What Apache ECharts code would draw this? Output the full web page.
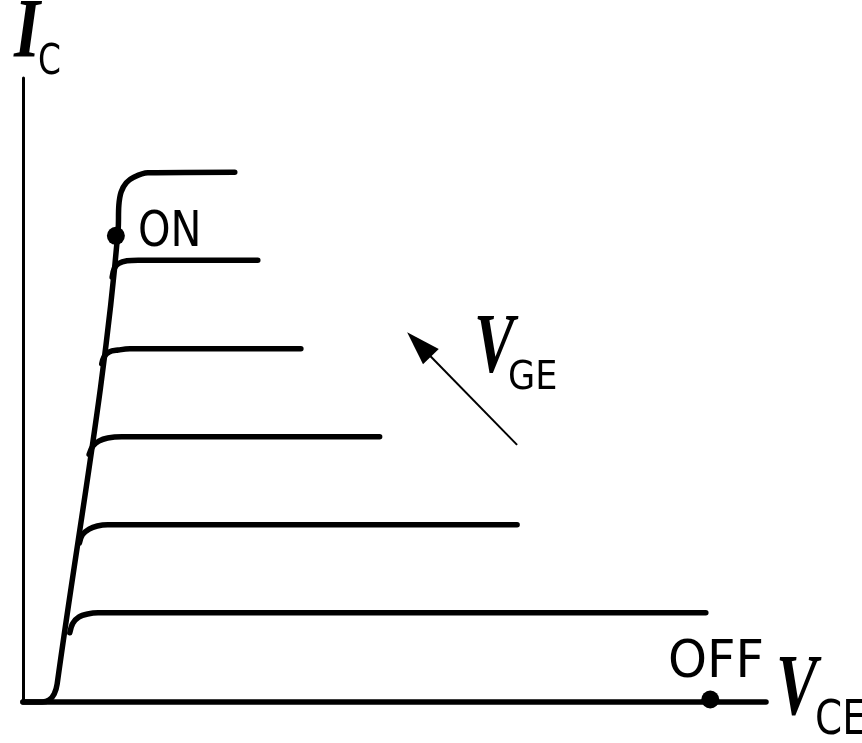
<!DOCTYPE html>
<html>
<head>
<meta charset="utf-8">
<title>IGBT output characteristics</title>
<script src="https://cdn.jsdelivr.net/npm/echarts@6/dist/echarts.min.js"></script>
<style>
  html, body { margin: 0; padding: 0; background: #fff; }
  #chart { width: 862px; height: 743px; }
</style>
</head>
<body>
<div id="chart"></div>
<script>
// Ic - Vce curves, one per Vge step (arbitrary units, 0..10 on both axes)
// the first one also carries the on-state rise from the origin
const curveTop = [[0, 0], [0.26, 0], [0.35, 0.03], [0.42, 0.13], [0.46, 0.29], [1.28, 7.56],
                  [1.29, 7.96], [1.32, 8.17], [1.39, 8.32], [1.49, 8.41], [1.68, 8.48], [2.85, 8.49]];
const curve2 = [[1.20, 6.81], [1.23, 6.95], [1.29, 7.03], [1.40, 7.07], [1.55, 7.08], [3.16, 7.08]];
const curve3 = [[1.06, 5.42], [1.09, 5.53], [1.16, 5.61], [1.28, 5.64], [1.44, 5.66], [3.74, 5.66]];
const curve4 = [[0.89, 3.97], [0.94, 4.10], [1.02, 4.18], [1.14, 4.23], [1.33, 4.25], [4.80, 4.25]];
const curve5 = [[0.76, 2.55], [0.80, 2.68], [0.89, 2.77], [1.00, 2.82], [1.14, 2.84], [6.65, 2.84]];
const curve6 = [[0.63, 1.11], [0.67, 1.26], [0.75, 1.36], [0.87, 1.41], [1.01, 1.43], [9.19, 1.43]];
const curveOff = [[0, 0], [10, 0]];

// operating points
const onPoint = [1.25, 7.47];
const offPoint = [9.25, 0.04];

// Vge direction arrow (tail -> head)
const arrowFrom = [6.65, 4.12];
const arrowTo = [5.33, 5.73];

document.addEventListener('DOMContentLoaded', function () {
    const chart = echarts.init(document.getElementById('chart'));

    const curves = [curveTop, curve2, curve3, curve4, curve5, curve6, curveOff];

    const lineSeries = curves.map((d) => ({
        type: 'line',
        data: d,
        smooth: 0.35,
        showSymbol: false,
        clip: false,
        silent: true,
        lineStyle: { color: '#000', width: 5.5, cap: 'round' },
        z: 3
    }));

    // arrow hangs on the last curve as a markLine
    lineSeries[lineSeries.length - 1].markLine = {
        silent: true,
        symbol: ['none', 'triangle'],
        symbolSize: [22, 34],
        label: { show: false },
        lineStyle: { color: '#000', width: 2, type: 'solid' },
        data: [[{ coord: arrowFrom }, { coord: arrowTo }]]
    };

    const serif = '"Liberation Serif", "DejaVu Serif", serif';
    const sans = '"Liberation Sans Narrow", "DejaVu Sans Condensed", "Liberation Sans", sans-serif';

    // text helper: left edge + vertical middle, squeezed a bit horizontally
    function txt(text, x, y, font, sx) {
        return {
            type: 'text', x: x, y: y, scaleX: sx, silent: true, z: 10,
            style: {
                text: text, x: 0, y: 0, font: font, fill: '#000',
                align: 'left', verticalAlign: 'middle',
                textAlign: 'left', textVerticalAlign: 'middle'
            }
        };
    }

    const option = {
        animation: false,
        backgroundColor: '#fff',
        grid: { left: 23, right: 96, top: 78, bottom: 41 },
        xAxis: {
            type: 'value', min: 0, max: 10,
            axisLine: { show: true, lineStyle: { color: '#000', width: 3 } },
            axisTick: { show: false }, axisLabel: { show: false }, splitLine: { show: false }
        },
        yAxis: {
            type: 'value', min: 0, max: 10,
            axisLine: { show: true, lineStyle: { color: '#000', width: 3 } },
            axisTick: { show: false }, axisLabel: { show: false }, splitLine: { show: false }
        },
        series: lineSeries.concat([{
            type: 'scatter',
            data: [onPoint, offPoint],
            symbol: 'circle',
            symbolSize: 18,
            itemStyle: { color: '#000', opacity: 1 },
            clip: false,
            silent: true,
            z: 5
        }]),
        graphic: [
            txt('I', 14, 35, 'italic bold 84px ' + serif, 0.8),
            txt('C', 38, 63, '42px ' + sans, 0.87),
            txt('V', 474, 350, 'italic bold 84px ' + serif, 0.72),
            txt('GE', 508, 379, '39px ' + sans, 1.0),
            txt('ON', 138, 233, '50px ' + sans, 0.92),
            txt('OFF', 668, 664, '51px ' + sans, 1.08),
            txt('V', 776, 692, 'italic bold 86px ' + serif, 0.72),
            txt('CE', 815, 722, '48px ' + sans, 0.9)
        ]
    };

    chart.setOption(option);
});
</script>
</body>
</html>
